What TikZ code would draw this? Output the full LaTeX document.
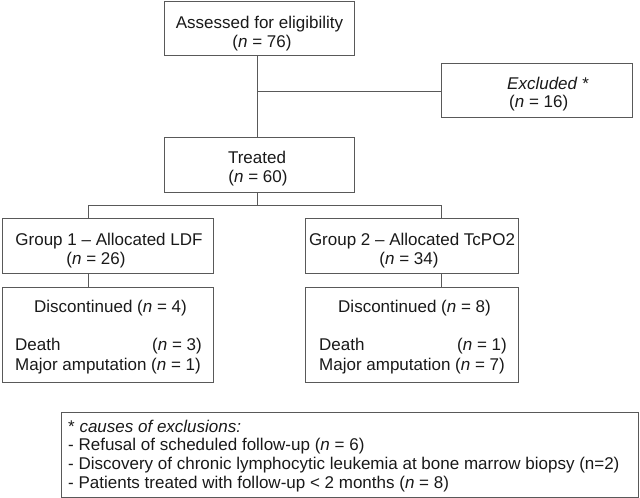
\documentclass[tikz,border=0pt]{standalone}
\usepackage{fontspec}
\setmainfont{Liberation Sans}
\begin{document}
\begin{tikzpicture}[x=1pt,y=-1pt,
  box/.style={draw=black!65, line width=0.9pt, rectangle, inner sep=0pt, minimum height=#1},
  box/.default=55,
  conn/.style={draw=black!65, line width=0.9pt},
  txt/.style={inner sep=0pt, font=\fontsize{17}{20}\selectfont, text=black!90}
]
\useasboundingbox (0,0) rectangle (640,498);
% boxes
\node[box=54, minimum width=190] (assess) at (259,28) {};
\node[box=54, minimum width=191] (excl) at (536.5,90) {};
\node[box=55, minimum width=190] (treat) at (259,164.5) {};
\node[box=55, minimum width=211] (g1) at (107.5,245.5) {};
\node[box=95, minimum width=211] (d1) at (107.5,334.5) {};
\node[box=55, minimum width=213] (g2) at (411.5,245.5) {};
\node[box=95, minimum width=213] (d2) at (411.5,334.5) {};
\node[box=85, minimum width=577] (foot) at (349.5,454.5) {};
% connectors
\coordinate (j1) at (257,91);
\coordinate (s1) at (88,205);
\coordinate (s2) at (441,205);
\coordinate (s0) at (257,205);
\draw[conn] (j1 |- assess.south) -- (j1 |- treat.north);
\draw[conn] (j1) -- (excl.west |- j1);
\draw[conn] (s0 |- treat.south) -- (s0);
\draw[conn] (s1) -- (s2);
\draw[conn] (s1) -- (s1 |- g1.north);
\draw[conn] (s2) -- (s2 |- g2.north);
\draw[conn] (s1 |- g1.south) -- (s1 |- d1.north);
\draw[conn] (s2 |- g2.south) -- (s2 |- d2.north);
% texts
\node[txt, anchor=base] (t1a) at (259.5,28) {Assessed for eligibility};
\node[txt, anchor=base] (t1b) at (262,47) {(\textit{n} = 76)};
\node[txt, anchor=base west] (t2a) at (507,89) {\textit{Excluded} *};
\node[txt, anchor=base west] (t2b) at (509,107) {(\textit{n} = 16)};
\node[txt, anchor=base] (t3a) at (257,163) {Treated};
\node[txt, anchor=base] (t3b) at (258,182) {(\textit{n} = 60)};
\node[txt, anchor=base] (t4a) at (109,245) {Group 1 – Allocated LDF};
\node[txt, anchor=base] (t4b) at (96,264) {(\textit{n} = 26)};
\node[txt, anchor=base west] (t5a) at (34,312) {Discontinued (\textit{n} = 4)};
\node[txt, anchor=base west] (t5b) at (15,350.5) {Death};
\node[txt, anchor=base east] (t5c) at (202,350.5) {(\textit{n} = 3)};
\node[txt, anchor=base west] (t5d) at (15,370) {Major amputation (\textit{n} = 1)};
\node[txt, anchor=base] (t6a) at (412,245) {Group 2 – Allocated TcPO2};
\node[txt, anchor=base] (t6b) at (409,264) {(\textit{n} = 34)};
\node[txt, anchor=base west] (t7a) at (338,312) {Discontinued (\textit{n} = 8)};
\node[txt, anchor=base west] (t7b) at (319,350.5) {Death};
\node[txt, anchor=base east] (t7c) at (507,350.5) {(\textit{n} = 1)};
\node[txt, anchor=base west] (t7d) at (319,370) {Major amputation (\textit{n} = 7)};
\node[txt, anchor=base west] (f1) at (68,432) {* \textit{causes of exclusions:}};
\node[txt, anchor=base west] (f2) at (68,450.8) {- Refusal of scheduled follow-up (\textit{n} = 6)};
\node[txt, anchor=base west] (f3) at (68,469.6) {- Discovery of chronic lymphocytic leukemia at bone marrow biopsy (n=2)};
\node[txt, anchor=base west] (f4) at (68,488.4) {- Patients treated with follow-up < 2 months (\textit{n} = 8)};
\end{tikzpicture}
\end{document}
